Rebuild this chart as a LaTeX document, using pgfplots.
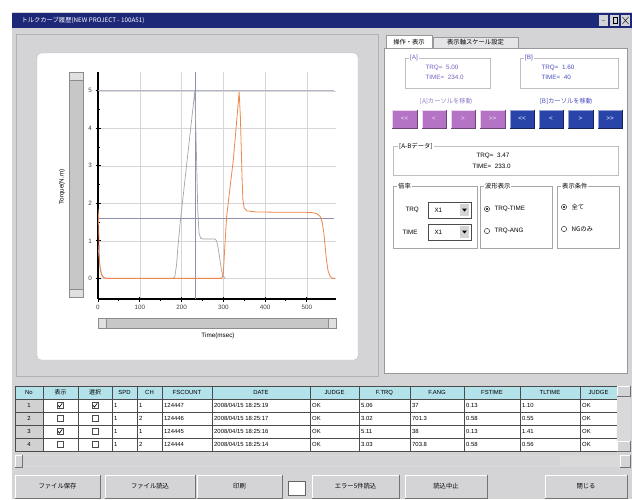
\documentclass[border=0pt]{standalone}
\usepackage{pgfplots}
\pgfplotsset{compat=1.18}
\usepackage{fontspec}
\setmainfont{Liberation Sans}
\newfontfamily\jp{Noto Sans CJK JP}
\definecolor{wingrey}{HTML}{D4D4D6}
\definecolor{navy}{HTML}{1E2878}
\definecolor{gridc}{HTML}{D6D6D6}
\definecolor{cursor}{HTML}{8C92AC}
\definecolor{limitc}{HTML}{B4B8C8}
\definecolor{orangec}{HTML}{F0874A}
\definecolor{grayc}{HTML}{A4A4AC}
\definecolor{purp}{HTML}{B473C4}
\definecolor{bluebtn}{HTML}{2844A8}
\definecolor{atext}{HTML}{7A5CC0}
\definecolor{btext}{HTML}{4A4EC0}
\definecolor{hdr}{HTML}{B4E2EA}
\newcommand\ui{\fontsize{6.3}{7.3}\selectfont}
\newcommand\uis{\fontsize{5.9}{6.9}\selectfont}
\newcommand{\btn}[5]{%
  \fill[wingrey] (#1,#2) rectangle (#3,#4);
  \draw[white,line width=0.6pt] (#1,#4) -- (#1,#2) -- (#3,#2);
  \draw[black!55,line width=0.6pt] (#1,#4) -- (#3,#4) -- (#3,#2);
  \node[font=\ui\jp] at ({(#1+#3)/2},{(#2+#4)/2}) {#5};}
\newcommand{\cbox}[2]{\draw[fill=white,draw=black!70,line width=0.4pt] (#1-3,#2-3) rectangle (#1+3,#2+3);}
\newcommand{\chk}[2]{\cbox{#1}{#2}\draw[line width=0.6pt] (#1-2,#2-0.3) -- (#1-0.6,#2+1.7) -- (#1+2.2,#2-2.2);}
\newcommand{\cell}[3]{\node[anchor=west,font=\uis,inner sep=0pt] at (#1+2,#2) {#3};}
\newcommand{\grp}[5]{%
  \draw[black!35,line width=0.5pt] (#1,#2) rectangle (#3,#4);
  \node[anchor=west,fill=white,font=\ui\jp,inner sep=1pt] at (#1+4,#2) {#5};}
\begin{document}
\begin{tikzpicture}
\path[use as bounding box] (0pt,0pt) rectangle (632pt,-499pt);
\begin{scope}[x=1pt,y=-1pt]
% window
\fill[white] (0,0) rectangle (632,499);
\fill[wingrey] (12,12) rectangle (632,499);
\fill[navy] (12,13) rectangle (632,28);
\node[anchor=west,text=white,font=\ui\jp] at (18,20.5) {トルクカーブ履歴(NEW PROJECT - 100A51)};
\foreach \bx in {599,610,621}{\fill[wingrey] (\bx,15) rectangle (\bx+9,26);}
\node[font=\fontsize{5}{5}\selectfont] at (603.5,20.5) {\_};
\draw (613,17.5) rectangle (617,23.5);
\draw (622.5,17) -- (628.5,24) (622.5,24) -- (628.5,17);
% left chart panel
\draw[black!30] (16,34) rectangle (378,376);
\fill[white,rounded corners=4pt] (37,53) rectangle (358,360);
\draw[black!25,rounded corners=4pt] (37,53) rectangle (358,360);
% scrollbars
\fill[black!22] (69,72) rectangle (83,297);
\draw[black!45] (69,72) rectangle (83,297);
\fill[black!12] (69,72) rectangle (83,80); \draw[black!45] (69,72) rectangle (83,80);
\fill[black!12] (69,289) rectangle (83,297); \draw[black!45] (69,289) rectangle (83,297);
\fill[black!22] (98,318) rectangle (336,328);
\draw[black!45] (98,318) rectangle (336,328);
\fill[black!12] (98,318) rectangle (106,328); \draw[black!45] (98,318) rectangle (106,328);
\fill[black!12] (328,318) rectangle (336,328); \draw[black!45] (328,318) rectangle (336,328);
% right panel
\fill[white] (384,48) rectangle (627,373);
\draw[black!40] (384,48) rectangle (627,373);
\fill[white] (386,35) rectangle (432,48);
\draw[black!40] (386,48) -- (386,35) -- (432,35) -- (432,48);
\fill[wingrey!60] (433,37) rectangle (518,48);
\draw[black!40] (433,48) -- (433,37) -- (518,37) -- (518,48);
\node[font=\ui\jp] at (409,42) {操作・表示};
\node[font=\ui\jp] at (475.5,42.5) {表示軸スケール設定};
% A / B boxes
\draw[black!25] (405,58) rectangle (490,88);
\node[anchor=west,fill=white,inner sep=1pt,font=\ui,text=atext] at (409,58) {[A]};
\node[anchor=west,font=\ui,text=atext] at (422,68) {TRQ= \ 5.00};
\node[anchor=west,font=\ui,text=atext] at (422,77.5) {TIME= \ 234.0};
\draw[black!25] (520,58) rectangle (618,88);
\node[anchor=west,fill=white,inner sep=1pt,font=\ui,text=btext] at (524,58) {[B]};
\node[anchor=west,font=\ui,text=btext] at (538,68) {TRQ= \ 1.60};
\node[anchor=west,font=\ui,text=btext] at (538,77.5) {TIME= \ 40};
\node[font=\ui\jp,text=atext!80] at (446,101) {[A]カーソルを移動};
\node[font=\ui\jp,text=btext] at (566,101) {[B]カーソルを移動};
\foreach \a/\b/\t in {392/417/{{<}{<}},422/446/{<},451/475/{>},480/505/{{>}{>}}}{
  \fill[purp] (\a,110) rectangle (\b,128);
  \draw[white!70!purp] (\a,128) -- (\a,110) -- (\b,110);
  \draw[purp!60!black] (\a,128) -- (\b,128) -- (\b,110);
  \node[font=\ui,text=white!85!purp] at ({(\a+\b)/2},119) {\t};}
\foreach \a/\b/\t in {510/534/{{<}{<}},539/563/{<},568/593/{>},598/622/{{>}{>}}}{
  \fill[bluebtn] (\a,110) rectangle (\b,128);
  \draw[white!50!bluebtn] (\a,128) -- (\a,110) -- (\b,110);
  \draw[bluebtn!50!black] (\a,128) -- (\b,128) -- (\b,110);
  \node[font=\ui,text=white] at ({(\a+\b)/2},119) {\t};}
% A-B data
\draw[black!25] (393,146) rectangle (618,175);
\node[anchor=west,fill=white,inner sep=1pt,font=\ui\jp] at (398,146) {[A-Bデータ]};
\node[anchor=west,font=\ui] at (473,156) {TRQ= \ 3.47};
\node[anchor=west,font=\ui] at (469,166) {TIME= \ 233.0};
% groups
\grp{393}{186}{477}{248}{倍率}
\grp{480}{186}{552}{248}{波形表示}
\grp{557}{186}{619}{248}{表示条件}
\node[anchor=west,font=\ui] at (402,210) {TRQ};
\node[anchor=west,font=\ui] at (399,232) {TIME};
\foreach \yy in {210,232}{
  \draw[fill=white,draw=black!70] (428,\yy-8) rectangle (471,\yy+8);
  \node[anchor=west,font=\ui] at (431,\yy) {X1};
  \fill[wingrey] (460,\yy-6) rectangle (469,\yy+6);
  \fill (462,\yy-1.5) -- (467,\yy-1.5) -- (464.5,\yy+1.5) -- cycle;}
\draw[fill=white] (487,209) circle (2.6); \fill (487,209) circle (1.2);
\node[anchor=west,font=\ui] at (491,209) {TRQ-TIME};
\draw[fill=white] (487,231) circle (2.6);
\node[anchor=west,font=\ui] at (491,231) {TRQ-ANG};
\draw[fill=white] (564,207) circle (2.6); \fill (564,207) circle (1.2);
\node[anchor=west,font=\ui\jp] at (568,207) {全て};
\draw[fill=white] (564,229) circle (2.6);
\node[anchor=west,font=\ui\jp] at (568,229) {NGのみ};
% table
\fill[white] (15,386) rectangle (617,451);
\fill[hdr] (15,386) rectangle (617,399);
\fill[black!18] (15,399) rectangle (43,451);
\foreach \xx in {15,43,78,112,137,162,212,310,359,410,464,520,580,617}{\draw[black!70,line width=0.5pt] (\xx,386) -- (\xx,451);}
\foreach \yy in {386,399,412,425,438,451}{\draw[black!70,line width=0.5pt] (15,\yy) -- (617,\yy);}
\foreach \a/\b/\t in {15/43/No,43/78/{\jp 表示},78/112/{\jp 選択},112/137/SPD,137/162/CH,162/212/FSCOUNT,212/310/DATE,310/359/JUDGE,359/410/F.TRQ,410/464/F.ANG,464/520/FSTIME,520/580/TLTIME,580/617/JUDGE}{
  \node[font=\uis] at ({(\a+\b)/2},392.5) {\t};}
\foreach \n/\yy in {1/405.5,2/418.5,3/431.5,4/444.5}{\node[font=\uis] at (29,\yy) {\n};}
\chk{60}{405.5}\chk{95}{405.5}
\cbox{60}{418.5}\cbox{95}{418.5}
\chk{60}{431.5}\cbox{95}{431.5}
\cbox{60}{444.5}\cbox{95}{444.5}
\foreach \yy/\c/\f/\d/\tq/\an/\fs/\tl in {405.5/1/124447/2008\slash 04\slash 15 18:25:19/5.06/37/0.13/1.10,
   418.5/2/124446/2008\slash 04\slash 15 18:25:17/3.02/701.3/0.58/0.55,
   431.5/1/124445/2008\slash 04\slash 15 18:25:16/5.11/38/0.13/1.41,
   444.5/2/124444/2008\slash 04\slash 15 18:25:14/3.03/703.8/0.58/0.56}{
  \cell{112}{\yy}{1}\cell{137}{\yy}{\c}\cell{162}{\yy}{\f}\cell{212}{\yy}{\d}
  \cell{310}{\yy}{OK}\cell{359}{\yy}{\tq}\cell{410}{\yy}{\an}\cell{464}{\yy}{\fs}
  \cell{520}{\yy}{\tl}\cell{580}{\yy}{OK}}
\fill[black!15] (617,386) rectangle (630,451);
\btn{617}{386}{630}{396}{}\btn{617}{441}{630}{451}{}
\fill[black!15] (15,455) rectangle (630,467);
\fill[wingrey] (22,456) rectangle (560,466);
\btn{15}{455}{22}{467}{}\btn{620}{455}{630}{467}{}
% buttons
\btn{15}{475}{100}{498}{ファイル保存}
\btn{105}{475}{195}{498}{ファイル読込}
\btn{197}{475}{282}{498}{印刷}
\draw[fill=white,draw=black!60] (288,481) rectangle (305,495);
\btn{312}{475}{399}{498}{エラー5件読込}
\btn{405}{475}{487}{498}{読込中止}
\btn{545}{475}{627}{498}{閉じる}
\end{scope}
\begin{axis}[
  at={(98pt,-299pt)}, anchor=south west,
  scale only axis, width=238pt, height=227pt,
  xmin=0, xmax=570, ymin=-0.55, ymax=5.5,
  axis x line=bottom, axis y line=left,
  axis line style={-, line width=1.1pt, black},
  xtick={0,100,...,500}, ytick={0,1,...,5},
  minor x tick num=1, minor y tick num=1,
  tick align=center, major tick length=5pt, minor tick length=3pt,
  tick style={black, line width=0.8pt},
  every tick label/.append style={font=\fontsize{6.3}{7}\selectfont, text=black!75},
  /pgf/number format/assume math mode=true,
  grid=major, major grid style={gridc, line width=0.4pt},
]
\addplot[limitc, line width=0.6pt] coordinates {(0,5) (565,5)};
\addplot[cursor, line width=0.6pt] coordinates {(0,1.6) (565,1.6)};
\addplot[cursor, line width=0.6pt] coordinates {(234,-0.55) (234,5.5)};
\addplot[grayc, line width=0.7pt] coordinates {
(0,0.9) (2,0.6) (5,0.3) (9,0.1) (14,0.02) (20,0) (180,0) (184,0.05) (188,0.35)
(192,0.9) (197,1.5) (205,2.3) (215,3.3) (224,4.2) (232,5.0) (236,3.2) (239,1.8)
(242,1.2) (246,1.07) (252,1.05) (280,1.05) (284,1.0) (288,0.8) (292,0.5) (296,0.2)
(300,0.05) (305,0)};
\addplot[orangec, line width=0.8pt] coordinates {
(0,1.85) (1,1.7) (2,1.2) (3,0.7) (4,0.4) (6,0.2) (9,0.08) (14,0.02) (20,0) (296,0)
(300,0.1) (304,0.9) (308,1.64) (316,2.4) (324,3.15) (331,4.05) (338,4.97) (341,4.3)
(343,3.5) (345,2.7) (347,2.1) (350,1.88) (356,1.8) (380,1.77) (450,1.76) (500,1.76)
(515,1.75) (525,1.72) (532,1.65) (537,1.5) (541,1.2) (544,0.85) (547,0.5) (551,0.2)
(556,0.05) (562,0) (568,0)};
\end{axis}
\begin{scope}[x=1pt,y=-1pt]
\node[rotate=90,font=\ui] at (62,187) {Torque(N.m)};
\node[font=\ui] at (218,336) {Time(msec)};
\end{scope}
\end{tikzpicture}
\end{document}
